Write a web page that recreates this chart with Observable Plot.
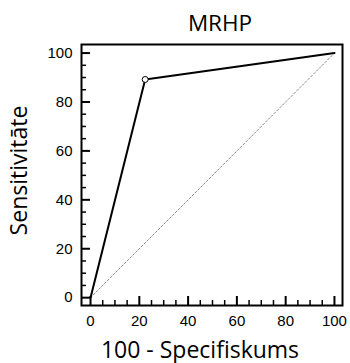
<!DOCTYPE html>
<html>
<head>
<meta charset="utf-8">
<script src="https://cdn.jsdelivr.net/npm/d3@7"></script>
<script src="https://cdn.jsdelivr.net/npm/@observablehq/plot@0.6"></script>
<style>
  html, body { margin: 0; padding: 0; background: #fff; }
</style>
</head>
<body>
<div id="chart"></div>
<script>
const title = "MRHP";
const xLabel = "100 - Specifiskums";
const yLabel = "Sensitivitāte";
const fpr = [0, 22.4, 100];
const tpr = [0, 89.2, 100];
const diagX = [0, 100];
const diagY = [0, 100];
const majorTicks = [0, 20, 40, 60, 80, 100];
const minorTicks = d3.range(0, 101, 5).filter(v => v % 20 !== 0);

const roc = fpr.map((x, i) => ({x, y: tpr[i]}));
const diag = diagX.map((x, i) => ({x, y: diagY[i]}));
const inner = roc.slice(1, -1);

const W = 350, H = 363;
const mL = 81, mR = 8, mT = 44, mB = 58;
const iw = W - mL - mR, ih = H - mT - mB;

const chart = Plot.plot({
  width: W, height: H,
  marginLeft: mL, marginRight: mR, marginTop: mT, marginBottom: mB,
  style: {background: "#fff", fontFamily: "Liberation Sans, Arial, sans-serif"},
  x: {domain: [-3.7, 103.3]},
  y: {domain: [-3.2, 103.5]},
  marks: [
    Plot.line(diag, {x: "x", y: "y", stroke: "#8a8a8a", strokeWidth: 1, strokeDasharray: "2,2"}),
    Plot.line(roc, {x: "x", y: "y", stroke: "#000", strokeWidth: 2}),
    Plot.dot(inner, {x: "x", y: "y", r: 3, fill: "#fff", stroke: "#000", strokeWidth: 1}),
    Plot.tickX(majorTicks, {x: d => d, insetTop: ih - 9, stroke: "#000", strokeWidth: 2}),
    Plot.tickX(minorTicks, {x: d => d, insetTop: ih - 5, stroke: "#000", strokeWidth: 1.5}),
    Plot.tickY(majorTicks, {y: d => d, insetRight: iw - 9, stroke: "#000", strokeWidth: 2}),
    Plot.tickY(minorTicks, {y: d => d, insetRight: iw - 5, stroke: "#000", strokeWidth: 1.5}),
    Plot.axisX({ticks: majorTicks, tickSize: 0, tickPadding: 10, fontSize: 15, fontFamily: "Liberation Sans, Arial, sans-serif", fill: "#000", label: null}),
    Plot.axisY({ticks: majorTicks, tickSize: 0, tickPadding: 9, fontSize: 15, fontFamily: "Liberation Sans, Arial, sans-serif", fill: "#000", label: null}),
    Plot.frame({stroke: "#000", strokeWidth: 2}),
    Plot.text([title], {frameAnchor: "top", dx: 8, dy: -14, lineAnchor: "bottom", fontSize: 22.5, fontFamily: "Open Sans", fill: "#000"}),
    Plot.text([xLabel], {frameAnchor: "bottom", dx: -12, dy: 52, lineAnchor: "bottom", fontSize: 23, fontFamily: "Open Sans", fill: "#000"}),
    Plot.text([yLabel], {frameAnchor: "left", textAnchor: "middle", dx: -62, dy: -4.5, rotate: -90, lineAnchor: "middle", fontSize: 23, fontFamily: "Open Sans", fill: "#000"})
  ]
});
document.getElementById("chart").appendChild(chart);
</script>
</body>
</html>
